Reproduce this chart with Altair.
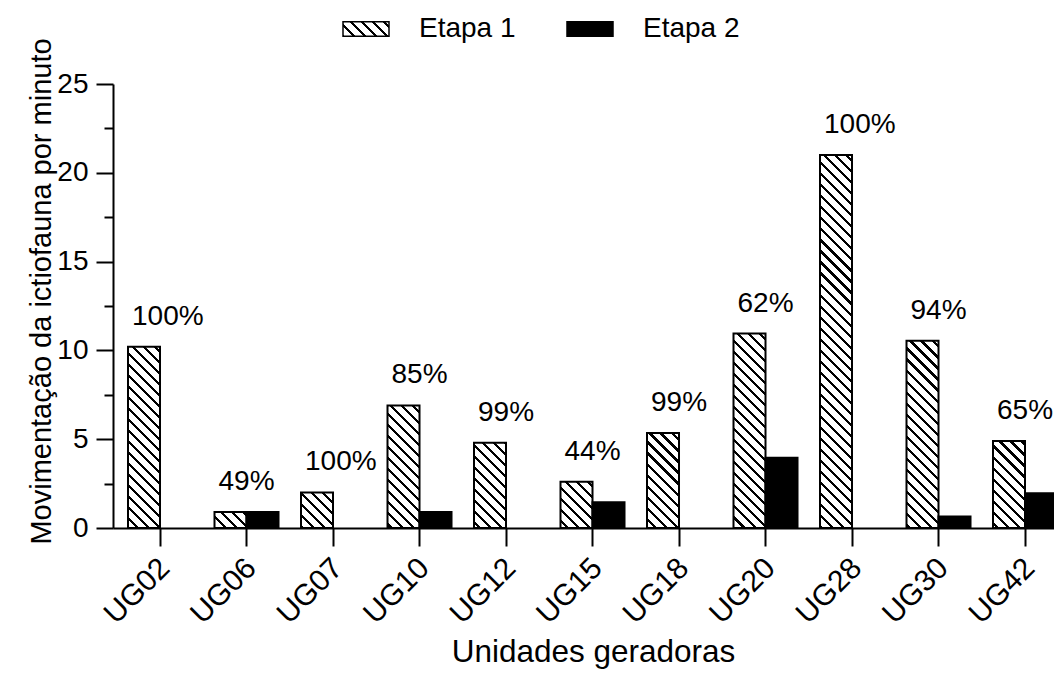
import math
import json
import altair as alt

# ---------------- data ----------------
categories = ["UG02", "UG06", "UG07", "UG10", "UG12", "UG15", "UG18", "UG20", "UG28", "UG30", "UG42"]
etapa1 = [10.2, 0.9, 2.0, 6.9, 4.8, 2.6, 5.35, 10.95, 21.0, 10.55, 4.9]
etapa2 = [0.0, 0.9, 0.0, 0.9, 0.0, 1.45, 0.0, 3.95, 0.0, 0.65, 1.95]
percent_labels = ["100%", "49%", "100%", "85%", "99%", "44%", "99%", "62%", "100%", "94%", "65%"]
stages = ["Etapa 1", "Etapa 2"]
y_ticks = [0, 2.5, 5, 7.5, 10, 12.5, 15, 17.5, 20, 22.5, 25]

# ---------------- layout ----------------
FONT = "Liberation Sans"
PLOT_W = 941
PLOT_H = 444
Y_MAX = 25
STEP = 86.5
P_INNER = 0.26
P_OUTER = 15 / STEP
RANGE_END = STEP * (len(categories) - P_INNER + 2 * P_OUTER)
BAR_W = STEP * (1 - P_INNER) / 2

HATCH_SPACING = 7.8   # perpendicular distance between hatch lines (px)
HATCH_LW = 2.2        # hatch line thickness (px)


def hatch_gradient(w, h, x0=0.0, base=0.0):
    """Linear gradient (bounding-box units) that looks like '\\\\' hatching."""
    r = h / w
    s = (1 + r) / (1 + r * r)
    total = w + h
    period = HATCH_SPACING * math.sqrt(2)
    half = HATCH_LW / 2 * math.sqrt(2)
    c = (-(x0 - base)) % period
    stops = [{"offset": 0, "color": "white"}]
    while c - half < total:
        a = max(0.0, (c - half) / total)
        b = min(1.0, (c + half) / total)
        stops += [
            {"offset": round(a, 5), "color": "white"},
            {"offset": round(a, 5), "color": "black"},
            {"offset": round(b, 5), "color": "black"},
            {"offset": round(b, 5), "color": "white"},
        ]
        c += period
    stops.append({"offset": 1, "color": "white"})
    return {"gradient": "linear", "x1": 0, "y1": 1, "x2": round(s, 6),
            "y2": round(1 - r * s, 6), "stops": stops}


bar_rows = []
for i, ug in enumerate(categories):
    v1 = etapa1[i]
    h1 = v1 / Y_MAX * PLOT_H
    x0 = STEP * P_OUTER + STEP * i
    bar_rows.append({"ug": ug, "etapa": stages[0], "value": v1,
                     "paint": hatch_gradient(BAR_W, max(h1, 1), x0, PLOT_H)})
    bar_rows.append({"ug": ug, "etapa": stages[1], "value": etapa2[i], "paint": "black"})

label_rows = [{"ug": ug, "top": max(etapa1[i], etapa2[i]), "label": percent_labels[i]}
              for i, ug in enumerate(categories)]
legend_rows = [{"ug": categories[0], "etapa": s, "value": 0} for s in stages]

legend_grad = hatch_gradient(46, 14.7)
legend_grad_expr = json.dumps(legend_grad)

# ---------------- scales ----------------
x_scale = alt.Scale(domain=categories, range=[0, RANGE_END],
                    paddingInner=P_INNER, paddingOuter=P_OUTER)
y_scale = alt.Scale(domain=[0, Y_MAX], nice=False)

x_axis = alt.Axis(
    title="Unidades geradoras", titleFont=FONT, titleFontSize=31.5, titleFontWeight="normal",
    titleColor="black", titleBaseline="alphabetic", titleX=480, titleY=133,
    labelFont=FONT, labelFontSize=30, labelColor="black", labelAngle=-45,
    labelAlign="right", labelBaseline="middle", labelPadding=17, labelOffset=5,
    domainColor="black", domainWidth=2, tickColor="black", tickWidth=2, tickSize=18,
    grid=False, labelOverlap=False,
)
y_axis = alt.Axis(
    title="Movimentação da ictiofauna por minuto", titleFont=FONT, titleFontSize=29,
    titleFontWeight="normal", titleColor="black", titleX=-57, titleY=207,
    titleBaseline="bottom",
    values=y_ticks, labelExpr="datum.value % 5 === 0 ? datum.label : ''",
    labelFont=FONT, labelFontSize=28, labelColor="black", labelPadding=8,
    domainColor="black", domainWidth=2, tickColor="black", tickWidth=2,
    tickSize={"condition": {"test": "datum.value % 5 !== 0", "value": 9}, "value": 17},
    grid=False, labelOverlap=False,
)

bars = alt.Chart(alt.Data(values=bar_rows)).transform_filter(
    "datum.value > 0"
).mark_bar(stroke="black", strokeWidth=2).encode(
    x=alt.X("ug:N", scale=x_scale, sort=categories, axis=x_axis),
    xOffset=alt.XOffset("etapa:N", sort=stages,
                        scale=alt.Scale(domain=stages, paddingInner=0, paddingOuter=0)),
    y=alt.Y("value:Q", scale=y_scale, axis=y_axis),
    fill=alt.Fill("paint:N", scale=None, legend=None),
)

labels = alt.Chart(alt.Data(values=label_rows)).mark_text(
    align="left", baseline="alphabetic", dx=4, dy=-22, font=FONT, fontSize=28, color="black"
).encode(
    x=alt.X("ug:N", scale=x_scale, sort=categories, bandPosition=0),
    y=alt.Y("top:Q", scale=y_scale),
    text="label:N",
)

legend_layer = alt.Chart(alt.Data(values=legend_rows)).mark_square(
    opacity=0, size=1, filled=True
).encode(
    x=alt.X("ug:N", scale=x_scale, sort=categories),
    y=alt.Y("value:Q", scale=y_scale),
    color=alt.Color(
        "etapa:N",
        scale=alt.Scale(domain=stages, range=[{"expr": legend_grad_expr}, "black"]),
        legend=alt.Legend(
            title=None, orient="none", legendX=229, legendY=-79, direction="horizontal",
            symbolType="M-1,-0.32H1V0.32H-1Z", symbolSize=2116,
            symbolStrokeColor="black", symbolStrokeWidth=1.5, symbolOpacity=1,
            labelFont=FONT, labelFontSize=28, labelColor="black", labelOffset=29,
            columnPadding=48, padding=0, labelLimit=0,
        ),
    ),
)

chart = alt.layer(bars, labels, legend_layer).properties(
    width=PLOT_W, height=PLOT_H,
    autosize=alt.AutoSizeParams(type="none"),
    padding={"left": 105, "top": 76, "right": 0, "bottom": 141},
    background="white",
).configure_view(stroke=None)

chart.save("out.html", embed_options={"renderer": "svg", "actions": False})
